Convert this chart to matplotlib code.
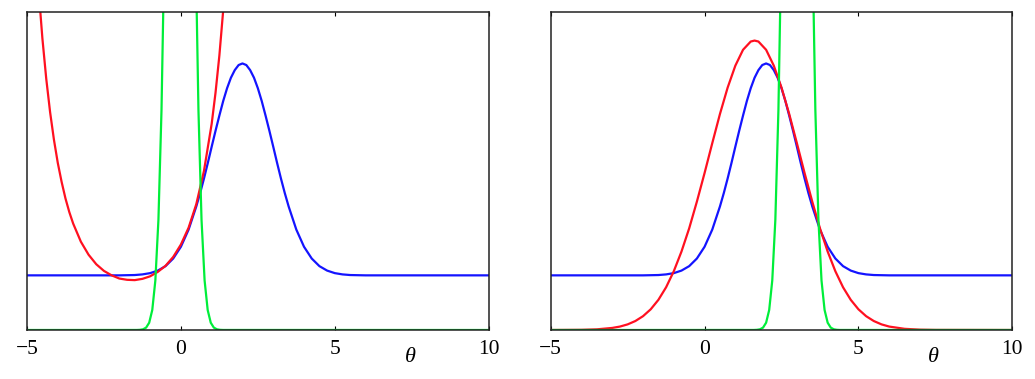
import matplotlib
matplotlib.use("Agg")
import matplotlib.pyplot as plt

# ---------------- data ----------------
blue_x = [-5.0, -2.0, -1.5, -1.25, -1.0, -0.75, -0.5, -0.25, 0.0, 0.25, 0.5, 0.625,
          0.75, 0.875, 1.0, 1.125, 1.25, 1.375, 1.5, 1.625, 1.75, 1.875, 2.0,
          2.125, 2.25, 2.375, 2.5, 2.625, 2.75, 2.875, 3.0, 3.125, 3.25, 3.375,
          3.5, 3.75, 4.0, 4.25, 4.5, 4.75, 5.0, 5.25, 5.5, 6.0, 10.0]
blue_y = [0.172, 0.172, 0.173, 0.175, 0.179, 0.187, 0.201, 0.225, 0.262, 0.316, 0.389, 0.431,
          0.477, 0.526, 0.577, 0.627, 0.675, 0.721, 0.761, 0.794, 0.818, 0.834, 0.839,
          0.834, 0.818, 0.794, 0.761, 0.721, 0.675, 0.627, 0.577, 0.526, 0.477, 0.431,
          0.389, 0.316, 0.262, 0.225, 0.201, 0.187, 0.179, 0.175, 0.173, 0.172, 0.172]

# left panel: red approximation
red_left_x = [-4.75, -4.625, -4.5, -4.375, -4.25, -4.125, -4.0, -3.875, -3.75, -3.625,
              -3.5, -3.25, -3.0, -2.75, -2.5, -2.25, -2.0, -1.75, -1.5, -1.25, -1.0,
              -0.75, -0.5, -0.25, 0.0, 0.25, 0.5, 0.75, 1.0, 1.125, 1.25, 1.375, 1.5]
red_left_y = [1.261, 1.073, 0.918, 0.791, 0.686, 0.599, 0.526, 0.466, 0.414, 0.371,
              0.335, 0.278, 0.237, 0.207, 0.186, 0.172, 0.162, 0.158, 0.157, 0.161, 0.169,
              0.183, 0.202, 0.230, 0.269, 0.322, 0.396, 0.501, 0.649, 0.747, 0.864, 1.007, 1.181]

# left panel: green weighting (narrow spike, runs off the top)
green_left_x = [-5.0, -1.43, -1.33, -1.23, -1.13, -1.03, -0.93, -0.83, -0.73, -0.63, -0.53,
                -0.43, -0.33, -0.23, -0.13, -0.03, 0.07, 0.17, 0.27, 0.37, 0.47, 0.57,
                0.67, 0.77, 0.87, 0.97, 1.07, 1.17, 1.27, 1.37, 10.0]
green_left_y = [0.0, 0.0001, 0.0006, 0.0022, 0.0075, 0.023, 0.063, 0.156, 0.347, 0.693, 1.243,
                2.01, 2.91, 3.80, 4.46, 4.70, 4.46, 3.80, 2.91, 2.01, 1.243, 0.693,
                0.347, 0.156, 0.063, 0.023, 0.0075, 0.0022, 0.0006, 0.0001, 0.0]

# right panel: red approximation
red_right_x = [-5.0, -4.0, -3.5, -3.0, -2.75, -2.5, -2.25, -2.0, -1.75, -1.5, -1.25, -1.0,
               -0.75, -0.5, -0.25, 0.0, 0.25, 0.5, 0.75, 1.0, 1.25, 1.5, 1.625, 1.75,
               2.0, 2.25, 2.5, 2.75, 3.0, 3.25, 3.5, 3.75, 4.0, 4.25, 4.5, 4.75, 5.0,
               5.25, 5.5, 5.75, 6.0, 6.5, 7.0, 7.5, 10.0]
red_right_y = [0.0, 0.0006, 0.0021, 0.0065, 0.0108, 0.0177, 0.0282, 0.0435, 0.0652, 0.095, 0.1345, 0.185,
               0.247, 0.320, 0.404, 0.494, 0.588, 0.680, 0.763, 0.832, 0.882, 0.908, 0.911, 0.908,
               0.882, 0.832, 0.763, 0.680, 0.588, 0.494, 0.404, 0.320, 0.247, 0.185, 0.1345, 0.095, 0.0652,
               0.0435, 0.0282, 0.0177, 0.0108, 0.0037, 0.0011, 0.0003, 0.0]

# right panel: green weighting
green_right_x = [-5.0, 1.6, 1.7, 1.8, 1.9, 2.0, 2.1, 2.2, 2.3, 2.4, 2.5,
                 2.6, 2.7, 2.8, 2.9, 3.0, 3.1, 3.2, 3.3, 3.4, 3.5, 3.6,
                 3.7, 3.8, 3.9, 4.0, 4.1, 4.2, 4.3, 4.4, 10.0]
green_right_y = green_left_y

xticks = [-5, 0, 5, 10]
xtick_labels = ["\u22125", "0", "5", "10"]

BLUE = "#1414ff"
RED = "#ff1020"
GREEN = "#00ee3a"

# ---------------- figure ----------------
fig = plt.figure(figsize=(10.35, 3.79), dpi=100)
ax1 = fig.add_axes([27 / 1035, 49 / 379, 461.7 / 1035, 317.7 / 379])
ax2 = fig.add_axes([550.7 / 1035, 49 / 379, 461.6 / 1035, 317.7 / 379])

panels = [
    (ax1, red_left_x, red_left_y, green_left_x, green_left_y),
    (ax2, red_right_x, red_right_y, green_right_x, green_right_y),
]

for ax, rx, ry, gx, gy in panels:
    ax.plot(blue_x, blue_y, color=BLUE, lw=1.6, solid_joinstyle="round")
    ax.plot(rx, ry, color=RED, lw=1.6, solid_joinstyle="round")
    ax.plot(gx, gy, color=GREEN, lw=1.6, solid_joinstyle="round")
    ax.set_xlim(-5, 10)
    ax.set_ylim(0, 1)
    ax.set_yticks([])
    ax.set_xticks(xticks)
    ax.set_xticklabels(xtick_labels, family="Liberation Serif", fontsize=15.5)
    ax.tick_params(axis="x", direction="in", length=3, width=0.8, pad=7.5,
                   top=True, bottom=True, colors="black")
    for s in ax.spines.values():
        s.set_color("#222222")
        s.set_linewidth(1.1)
    ax.annotate("\u03b8", xy=(7.44, -0.088), xycoords=("data", "axes fraction"),
                ha="center", va="center", fontsize=16, style="italic",
                family="Liberation Serif")

fig.savefig("out.png", dpi=100)
